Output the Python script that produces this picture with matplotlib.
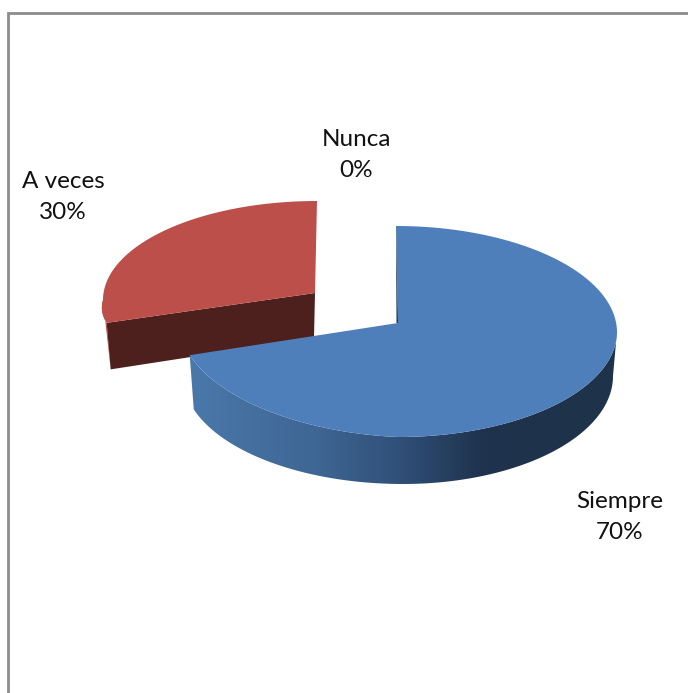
import numpy as np
import matplotlib
matplotlib.use("Agg")
import matplotlib.pyplot as plt
from matplotlib.colors import LinearSegmentedColormap
from matplotlib.patches import Polygon

categories = ["Siempre", "A veces", "Nunca"]
values = [70, 30, 0]
percent_labels = ["70%", "30%", "0%"]

plt.rcParams['font.family'] = ['Lato', 'DejaVu Sans']

W, H = 688, 693
fig = plt.figure(figsize=(W / 100, H / 100), dpi=100)
ax = fig.add_axes([0, 0, 1, 1])
ax.set_xlim(0, W)
ax.set_ylim(H, 0)
ax.axis("off")

# chart frame
ax.plot([8, 8, W], [H, 13, 13], color="#8c8c8c", lw=2, solid_joinstyle="miter")

total = sum(values)
angles = np.cumsum([0] + values) / total * 2 * np.pi


def rim(theta, s):
    # top edge of a slice, the tilt and lean stand in for the 3d perspective
    c = np.cos(theta)
    x = s["cx"] + s["rx"] * np.sin(theta) + s["lean_back"] * np.maximum(c, 0) + s["lean_front"] * np.minimum(c, 0)
    y = s["cy"] - np.where(c > 0, s["ry_back"], s["ry_front"]) * c - s["tilt"] * np.maximum(-np.sin(theta), 0)
    return x, y


blue = dict(apex=(398, 323), cx=398, cy=331.5, rx=219, ry_back=105.5, ry_front=105.5,
            lean_back=-2, lean_front=0, tilt=9.4)
red = dict(apex=(315, 293), cx=317, cy=300, rx=214, ry_back=99, ry_front=74,
           lean_back=0, lean_front=22, tilt=0)

# lower edge of the blue wall
base_cx, base_cy, base_ry = 403, 376, 108
base_rx_right, base_rx_left = 210, 220

# red slice, pulled out
a0, a1 = angles[1], angles[2]
red_depth_apex, red_depth_corner = 45, 46.5
xc, yc = rim(np.array([a0]), red)
corner = (xc[0], yc[0])
corner_low = (xc[0] + 4, yc[0] + red_depth_corner)
apex_low = (red["apex"][0] - 1, red["apex"][1] + red_depth_apex)

t = np.linspace(a0, 1.5 * np.pi, 40)
xt, yt = rim(t, red)
ax.add_patch(Polygon(np.r_[np.c_[xt, yt], [corner_low]], fc="#b24a47", ec="none", zorder=2))
ax.add_patch(Polygon([corner, red["apex"], apex_low, corner_low], fc="#4d1f1d", ec="none", zorder=3))

t = np.linspace(a0, a1, 120)
xt, yt = rim(t, red)
ax.add_patch(Polygon(np.r_[[red["apex"]], np.c_[xt, yt]], fc="#bd4f4b", ec="none", zorder=4))

# blue slice, outer wall with a horizontal gradient
a0, a1 = angles[0], angles[1]
t = np.linspace(np.pi / 2, a1, 200)
xt, yt = rim(t, blue)
sin_t = np.sin(t)
xb = base_cx + np.where(sin_t > 0, base_rx_right, base_rx_left) * sin_t
yb = base_cy - base_ry * np.cos(t)
wall = Polygon(np.r_[np.c_[xt, yt], np.c_[xb, yb][::-1]], fc="none", ec="none", transform=ax.transData)
ax.add_patch(wall)
wall_cmap = LinearSegmentedColormap.from_list(
    "wall", [(0, "#4a79ab"), (0.3, "#3f6694"), (0.5, "#2f4f77"), (0.68, "#1f334e"), (1, "#1e3249")])
img = ax.imshow(np.linspace(0, 1, 256).reshape(1, -1), cmap=wall_cmap, extent=(185, 620, 500, 320),
                aspect="auto", zorder=5)
img.set_clip_path(wall)
ax.set_xlim(0, W)
ax.set_ylim(H, 0)

t = np.linspace(a0, a1, 300)
xt, yt = rim(t, blue)
ax.add_patch(Polygon(np.r_[[blue["apex"]], np.c_[xt, yt]], fc="#4e7fba", ec="none", zorder=6))

# thin sliver of the inner wall next to the white gap
ax.add_patch(Polygon([(xt[0], yt[0]), blue["apex"], (blue["apex"][0] - 1.5, blue["apex"][1])],
                     fc="#1f334e", ec="none", zorder=7))

# labels
label_pos = [(620, 517), (63, 197), (356, 155)]
for name, pct, (lx, ly) in zip(categories, percent_labels, label_pos):
    ax.text(lx, ly, name + "\n" + pct, ha="center", va="center", fontsize=17.5, color="#111111",
            linespacing=1.55, zorder=8)

fig.savefig("out.png", dpi=100)
